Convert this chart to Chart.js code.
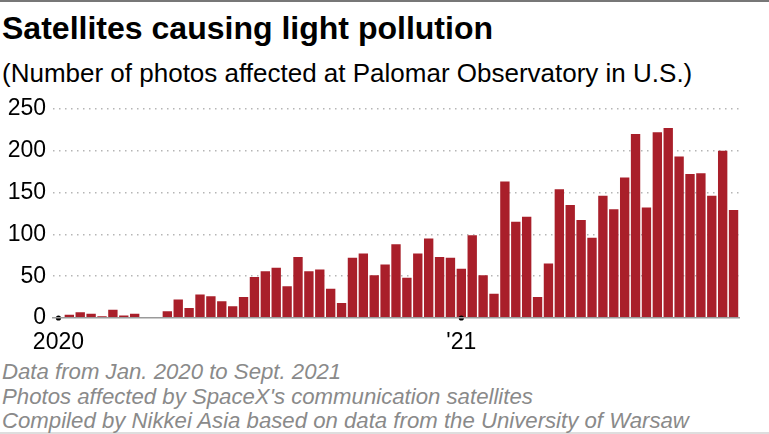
<!DOCTYPE html>
<html>
<head>
<meta charset="utf-8">
<script src="https://cdn.jsdelivr.net/npm/chart.js@4"></script>
<style>
  html, body { margin: 0; padding: 0; background: #fff; }
  body { width: 769px; height: 434px; position: relative; overflow: hidden; font-family: "Liberation Sans", Arial, sans-serif; }
  #topline { position: absolute; left: 0; top: 0; width: 769px; height: 2px; background: #777; }
  #bottomline { position: absolute; left: 0; top: 432px; width: 769px; height: 2px; background: #dedede; }
  #title { position: absolute; left: 2px; top: 11px; font-size: 31px; font-weight: bold; color: #000; white-space: nowrap; transform: scaleX(1.033); transform-origin: 0 0; }
  #subtitle { position: absolute; left: 2px; top: 58px; font-size: 26px; color: #000; white-space: nowrap; }
  #wrap { position: absolute; left: 0; top: 88px; width: 769px; height: 262px; }
  .foot { position: absolute; left: 2px; font-size: 22.2px; font-style: italic; color: #8a8a8a; white-space: nowrap; }
</style>
</head>
<body>
<div id="topline"></div>
<div id="bottomline"></div>
<div id="title">Satellites causing light pollution</div>
<div id="subtitle">(Number of photos affected at Palomar Observatory in U.S.)</div>
<div id="wrap"><canvas id="c" width="769" height="262"></canvas></div>
<div class="foot" style="top:359px">Data from Jan. 2020 to Sept. 2021</div>
<div class="foot" style="top:384px">Photos affected by SpaceX's communication satellites</div>
<div class="foot" style="top:408px">Compiled by Nikkei Asia based on data from the University of Warsaw</div>
<script>
// 10-day periods, Jan. 2020 - Sept. 2021
const categories = Array.from({length: 63}, (_, i) => 'P' + (i + 1));
const photosAffected = [
  0, 4, 7, 5, 2, 10, 3, 5, 0, 1,
  8, 22, 12, 28, 26, 20, 14, 25, 49, 56,
  60, 38, 73, 56, 58, 35, 18, 72, 77, 51,
  64, 88, 48, 77, 95, 73, 72, 59, 99, 51,
  29, 163, 115, 121, 25, 65, 154, 135, 117, 96,
  146, 130, 168, 220, 132, 222, 227, 193, 172, 173,
  146, 200, 129
];
const tickLabels = categories.map((_, i) => i === 0 ? '2020' : (i === 37 ? "'21" : ''));
const tickMarks = categories.map((_, i) => (i === 0 || i === 37) ? 0 : null);
const yTicks = [0, 50, 100, 150, 200, 250];

const FONT = '"Liberation Sans", Arial, sans-serif';

new Chart(document.getElementById('c'), {
  data: {
    labels: categories,
    datasets: [
      {
        type: 'line',
        data: tickMarks,
        showLine: false,
        pointRadius: 2.6,
        pointHoverRadius: 2.6,
        pointBackgroundColor: '#000',
        pointBorderWidth: 0,
        clip: false,
        order: 0
      },
      {
        type: 'bar',
        data: photosAffected,
        backgroundColor: '#a91f2a',
        borderWidth: 0,
        barPercentage: 0.86,
        categoryPercentage: 1.0,
        order: 1
      }
    ]
  },
  options: {
    responsive: false,
    animation: false,
    events: [],
    layout: { padding: { top: 18, right: 30, bottom: 0, left: 0 } },
    plugins: { legend: { display: false }, tooltip: { enabled: false } },
    scales: {
      x: {
        offset: true,
        grid: { display: false, drawTicks: false },
        border: { display: true, color: '#9a9a9a', width: 1.5, z: 1 },
        ticks: {
          autoSkip: false,
          maxRotation: 0,
          padding: 11,
          color: '#000',
          font: { family: FONT, size: 23 },
          callback: (v, i) => tickLabels[i]
        },
        afterFit: s => { s.height = 32; }
      },
      y: {
        min: 0,
        max: 250,
        afterBuildTicks: s => { s.ticks = yTicks.map(v => ({ value: v })); },
        grid: {
          drawTicks: false,
          color: c => (c.tick && c.tick.value === 0) ? 'rgba(0,0,0,0)' : '#b5b5b5',
          lineWidth: 1.5
        },
        border: { display: false, dash: [1.5, 4.5] },
        ticks: {
          padding: 7,
          color: '#000',
          font: { family: FONT, size: 23 }
        },
        afterFit: s => { s.width = 53; }
      }
    }
  }
});
</script>
</body>
</html>
